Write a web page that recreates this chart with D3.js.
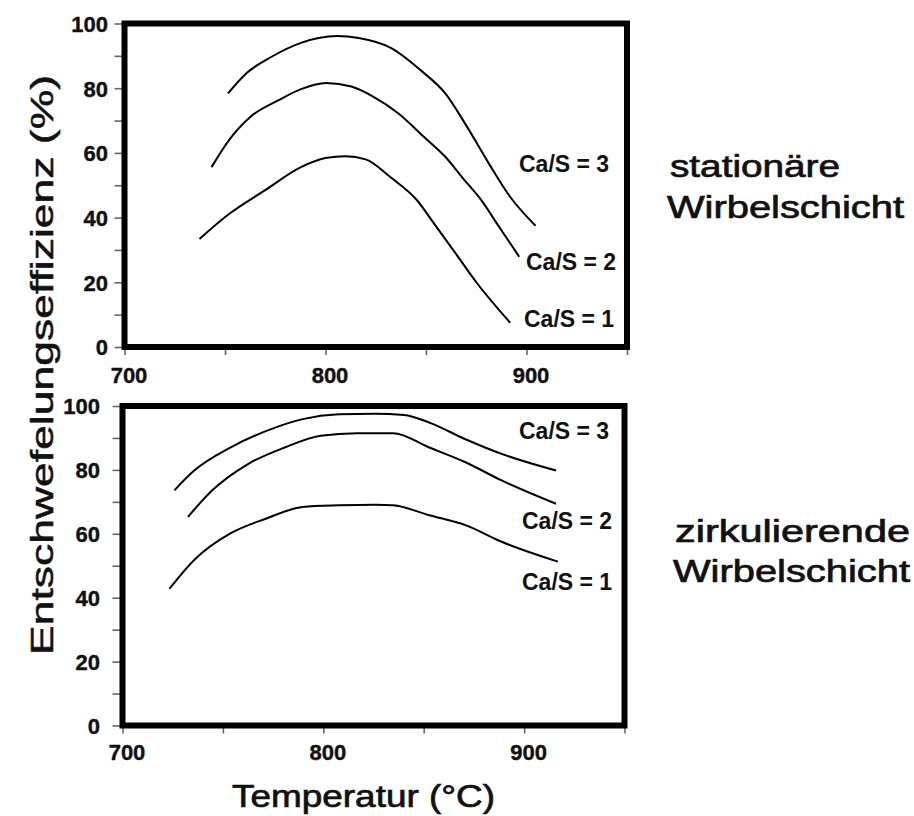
<!DOCTYPE html>
<html>
<head>
<meta charset="utf-8">
<script src="https://cdn.jsdelivr.net/npm/d3@7"></script>
<style>
  body { margin: 0; background: #fff; }
  svg { display: block; }
</style>
</head>
<body>
<svg id="chart" width="914" height="816"></svg>
<script>
// Axis ticks and labels
const temperatureTicks = [700, 750, 800, 850, 900, 950];
const temperatureLabels = [700, 800, 900];
const efficiencyTicks = [0, 10, 20, 30, 40, 50, 60, 70, 80, 90, 100];
const efficiencyLabels = [0, 20, 40, 60, 80, 100];

// Stationary fluidized bed: temperature (°C) and desulphurisation efficiency (%)
const statCa3Temp = [751.5, 760.8, 773.4, 787.8, 805.7, 816.5, 832.7, 848.0, 859.6, 870.0, 881.0, 892.0, 904.5];
const statCa3Eff  = [78.4, 84.7, 89.8, 94.0, 96.1, 95.5, 92.4, 85.2, 78.4, 68.5, 57.0, 46.3, 37.5];
const statCa2Temp = [743.3, 751.9, 762.7, 777.0, 787.8, 800.4, 812.9, 823.7, 836.3, 848.9, 859.6, 868.6, 877.6, 886.5, 896.4];
const statCa2Eff  = [55.6, 63.9, 71.2, 76.4, 79.7, 81.6, 80.5, 77.4, 72.2, 65.0, 58.8, 52.0, 45.3, 37.0, 27.9];
const statCa1Temp = [737.3, 752.0, 769.8, 787.8, 800.0, 810.0, 820.0, 832.7, 845.2, 854.2, 865.0, 875.8, 891.9];
const statCa1Eff  = [33.4, 41.1, 48.4, 55.6, 58.4, 59.0, 58.0, 52.3, 45.6, 38.0, 28.7, 19.4, 7.5];

// Circulating fluidized bed
const circCa3Temp = [725.8, 735.7, 753.7, 771.7, 789.7, 807.7, 825.8, 840.2, 852.8, 870.8, 888.8, 915.9];
const circCa3Eff  = [73.6, 79.8, 87.0, 92.2, 95.9, 97.4, 97.6, 97.2, 94.8, 89.6, 85.0, 79.8];
const circCa2Temp = [732.6, 744.7, 762.7, 780.7, 798.7, 816.8, 834.8, 852.8, 870.8, 888.8, 915.9];
const circCa2Eff  = [65.3, 73.6, 81.9, 87.0, 90.7, 91.5, 91.5, 87.0, 82.4, 76.7, 69.4];
const circCa1Temp = [723.4, 735.7, 753.7, 771.7, 789.7, 807.7, 825.8, 834.8, 852.8, 870.8, 888.8, 916.8];
const circCa1Eff  = [42.8, 51.8, 60.1, 64.8, 68.4, 68.9, 69.1, 68.9, 65.8, 62.7, 57.5, 51.3];

const curveNames = ["Ca/S = 3", "Ca/S = 2", "Ca/S = 1"];
const panelNames = [["stationäre", "Wirbelschicht"], ["zirkulierende", "Wirbelschicht"]];
const xTitle = "Temperatur (°C)";
const yTitle = "Entschwefelungseffizienz  (%)";

const FONT = "'Liberation Sans', Arial, Helvetica, sans-serif";
const svg = d3.select("#chart");
svg.append("rect").attr("width", 914).attr("height", 816).attr("fill", "#fff");

const panels = [
  {
    xRange: [124.5, 627], yRange: [347, 23.5], labelPad: 6.5, xLabelPad: 12,
    series: [
      { temp: statCa3Temp, eff: statCa3Eff },
      { temp: statCa2Temp, eff: statCa2Eff },
      { temp: statCa1Temp, eff: statCa1Eff }
    ],
    labelPos: [[519, 163.5], [526, 262], [524, 318.6]],
    names: panelNames[0],
    namePos: [[670, 176.7, 170], [667, 218, 237]]
  },
  {
    xRange: [122.5, 624.5], yRange: [725.5, 406], labelPad: 12.5, xLabelPad: 10.5,
    series: [
      { temp: circCa3Temp, eff: circCa3Eff },
      { temp: circCa2Temp, eff: circCa2Eff },
      { temp: circCa1Temp, eff: circCa1Eff }
    ],
    labelPos: [[519, 431], [522, 520.7], [522, 581.6]],
    names: panelNames[1],
    namePos: [[675, 542, 235], [673, 582, 237]]
  }
];

panels.forEach(p => {
  const x = d3.scaleLinear().domain([700, 950]).range(p.xRange);
  const y = d3.scaleLinear().domain([0, 100]).range(p.yRange);
  const g = svg.append("g");

  // y axis ticks (labels every 20 %)
  const yAxis = d3.axisLeft(y)
    .tickValues(efficiencyTicks)
    .tickSizeInner(10).tickSizeOuter(0)
    .tickPadding(p.labelPad)
    .tickFormat(d => efficiencyLabels.includes(d) ? d : "");
  const ya = g.append("g").attr("transform", `translate(${x(700)},0)`).call(yAxis);

  // x axis ticks (labels every 100 °C)
  const xAxis = d3.axisBottom(x)
    .tickValues(temperatureTicks)
    .tickSizeInner(8).tickSizeOuter(0)
    .tickPadding(p.xLabelPad)
    .tickFormat(d => temperatureLabels.includes(d) ? d : "");
  const xa = g.append("g").attr("transform", `translate(0,${y(0)})`).call(xAxis);

  [ya, xa].forEach(a => {
    a.select(".domain").remove();
    a.selectAll(".tick line").attr("stroke", "#666").attr("stroke-width", 1.6);
    a.selectAll(".tick text")
      .attr("font-family", FONT).attr("font-weight", "bold")
      .attr("font-size", 22).attr("fill", "#111")
      .attr("stroke", "#111").attr("stroke-width", 0.4);
  });
  xa.selectAll(".tick text").attr("dx", 4);
  ya.selectAll(".tick text").attr("dy", "0.36em");

  // frame
  g.append("rect")
    .attr("x", x(700)).attr("y", y(100))
    .attr("width", x(950) - x(700)).attr("height", y(0) - y(100))
    .attr("fill", "none").attr("stroke", "#000").attr("stroke-width", 6);

  // curves
  const line = d3.line()
    .x(d => x(d[0])).y(d => y(d[1]))
    .curve(d3.curveMonotoneX);
  p.series.forEach(s => {
    const pts = s.temp.map((t, i) => [t, s.eff[i]]);
    g.append("path").datum(pts)
      .attr("d", line)
      .attr("fill", "none").attr("stroke", "#000")
      .attr("stroke-width", 2).attr("stroke-linejoin", "round");
  });

  // curve labels
  curveNames.forEach((name, i) => {
    g.append("text")
      .attr("x", p.labelPos[i][0]).attr("y", p.labelPos[i][1])
      .attr("dy", "0.36em")
      .attr("font-family", FONT).attr("font-weight", "bold")
      .attr("font-size", 23).attr("fill", "#111")
      .text(name);
  });

  // bed type captions
  p.names.forEach((name, i) => {
    const [tx, ty, len] = p.namePos[i];
    g.append("text")
      .attr("x", tx).attr("y", ty)
      .attr("font-family", FONT).attr("font-size", 31)
      .attr("fill", "#111").attr("stroke", "#111").attr("stroke-width", 0.7)
      .attr("textLength", len).attr("lengthAdjust", "spacingAndGlyphs")
      .text(name);
  });
});

// axis titles
svg.append("text")
  .attr("x", 363.5).attr("y", 807)
  .attr("text-anchor", "middle")
  .attr("font-family", FONT).attr("font-size", 31)
  .attr("fill", "#111").attr("stroke", "#111").attr("stroke-width", 0.7)
  .attr("textLength", 263).attr("lengthAdjust", "spacingAndGlyphs")
  .text(xTitle);

svg.append("text")
  .attr("transform", "translate(53,365) rotate(-90)")
  .attr("text-anchor", "middle")
  .attr("font-family", FONT).attr("font-size", 31)
  .attr("fill", "#111").attr("stroke", "#111").attr("stroke-width", 0.5)
  .attr("textLength", 580).attr("lengthAdjust", "spacingAndGlyphs")
  .text(yTitle);
</script>
</body>
</html>
